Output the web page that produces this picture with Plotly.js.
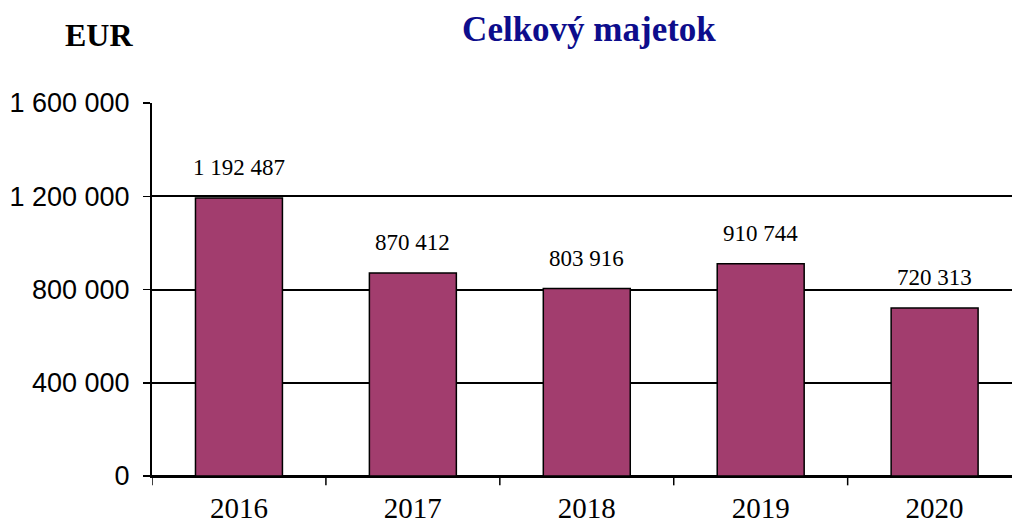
<!DOCTYPE html>
<html>
<head>
<meta charset="utf-8">
<script src="https://cdn.plot.ly/plotly-3.0.1.min.js"></script>
<style>html,body{margin:0;padding:0;background:#fff;}#chart{width:1012px;height:524px;}</style>
</head>
<body>
<div id="chart"></div>
<script>
const years = ['2016', '2017', '2018', '2019', '2020'];
const assets = [1192487, 870412, 803916, 910744, 720313];
const yTicks = [0, 400000, 800000, 1200000, 1600000];

const serif = 'Liberation Serif, Times New Roman, serif';

const trace = {
  type: 'bar',
  x: years,
  y: assets,
  marker: {color: '#A23D6E', line: {color: '#000000', width: 1.5}},
  hoverinfo: 'none'
};

function fmt(v) {
  return String(v).replace(/\B(?=(\d{3})+(?!\d))/g, ' ');
}

const annotations = [];
for (let i = 0; i < years.length; i++) {
  annotations.push({
    x: i, y: assets[i], xref: 'x', yref: 'y',
    text: fmt(assets[i]),
    showarrow: false, xanchor: 'center', yanchor: 'bottom', yshift: 16,
    font: {family: serif, size: 23, color: '#000000'}
  });
}
annotations.push({
  text: '<b>EUR</b>', xref: 'paper', yref: 'paper', x: -0.062, y: 1.182,
  xanchor: 'center', yanchor: 'middle', showarrow: false,
  font: {family: serif, size: 32, color: '#000'}
});

const shapes = [];
[-0.5, 0.5, 1.5, 2.5, 3.5].forEach(v => shapes.push({
  type: 'line', xref: 'x', yref: 'paper', x0: v, x1: v, y0: 0, y1: -0.025,
  line: {color: '#000', width: 1.5}
}));

const layout = {
  width: 1012, height: 524,
  margin: {l: 152, r: 0, t: 103, b: 48},
  paper_bgcolor: '#fff', plot_bgcolor: '#fff',
  separators: ', ',
  bargap: 0.5,
  showlegend: false,
  title: {
    text: '<b>Celkový majetok</b>',
    x: 0.582, xanchor: 'center', y: 0.945, yanchor: 'middle',
    font: {family: serif, size: 35, color: '#0D0D8C'}
  },
  xaxis: {
    type: 'category',
    range: [-0.5, 4.445],
    showline: true, linecolor: '#000', linewidth: 2,
    ticks: '', showgrid: false, zeroline: false,
    tickfont: {family: serif, size: 29, color: '#000'},
    ticklabelstandoff: 5
  },
  yaxis: {
    range: [0, 1600000],
    tickvals: yTicks,
    tickformat: ',d',
    ticks: 'outside', ticklen: 7, tickwidth: 1.5, tickcolor: '#000',
    showline: true, linecolor: '#000', linewidth: 2,
    showgrid: true, gridcolor: '#000', gridwidth: 2,
    zeroline: true, zerolinecolor: '#000', zerolinewidth: 2,
    tickfont: {family: 'Liberation Sans, Arial, sans-serif', size: 27, color: '#000'},
    ticklabelstandoff: 8
  },
  annotations: annotations,
  shapes: shapes
};

Plotly.newPlot('chart', [trace], layout, {staticPlot: true, displayModeBar: false});
</script>
</body>
</html>
